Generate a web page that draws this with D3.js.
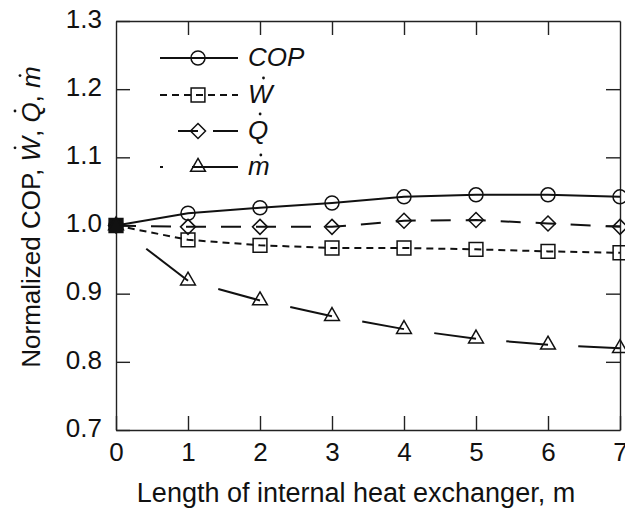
<!DOCTYPE html>
<html>
<head>
<meta charset="utf-8">
<script src="https://cdn.jsdelivr.net/npm/d3@7"></script>
<style>
    body { margin: 0; background: #fff; }
    svg { display: block; font-family: "Liberation Sans", Arial, Helvetica, sans-serif; }
</style>
</head>
<body>
<svg id="chart" width="625" height="510"></svg>
<script>
// data
const lengths = [0, 1, 2, 3, 4, 5, 6, 7];
const copValues = [1.000, 1.018, 1.026, 1.033, 1.042, 1.045, 1.045, 1.042];
const wValues = [1.000, 0.979, 0.971, 0.967, 0.967, 0.965, 0.962, 0.960];
const qValues = [1.000, 0.998, 0.998, 0.998, 1.007, 1.008, 1.003, 0.998];
const mValues = [1.000, 0.919, 0.890, 0.867, 0.848, 0.834, 0.825, 0.820];

const xTicks = [0, 1, 2, 3, 4, 5, 6, 7];
const yTicks = [0.7, 0.8, 0.9, 1.0, 1.1, 1.2, 1.3];
const legendLabels = ["COP", "W", "Q", "m"];

const plotLeft = 116, plotRight = 620, plotTop = 21, plotBottom = 430;
const ink = "#222";

const svg = d3.select("#chart");

const x = d3.scaleLinear().domain([0, 7]).range([plotLeft, plotRight]);
const y = d3.scaleLinear().domain([0.7, 1.3]).range([plotBottom, plotTop]);

// axes, ticks inside on all four sides
function styleAxis(g) {
    g.attr("font-family", null);
    g.selectAll(".domain").attr("stroke", ink).attr("stroke-width", 1.4);
    g.selectAll(".tick line").attr("stroke", ink).attr("stroke-width", 1.4);
    g.selectAll("text").attr("fill", "#111").attr("font-size", 26);
}

svg.append("g")
    .attr("transform", `translate(0,${plotBottom})`)
    .call(d3.axisBottom(x).tickValues(xTicks).tickSizeInner(-14).tickSizeOuter(0).tickPadding(13).tickFormat(d3.format("d")))
    .call(styleAxis);

svg.append("g")
    .attr("transform", `translate(0,${plotTop})`)
    .call(d3.axisTop(x).tickValues(xTicks.slice(1, -1)).tickSizeInner(-14).tickSizeOuter(0).tickFormat(""))
    .call(styleAxis);

svg.append("g")
    .attr("transform", `translate(${plotLeft},0)`)
    .call(d3.axisLeft(y).tickValues(yTicks).tickSizeInner(-14).tickSizeOuter(0).tickPadding(14).tickFormat(d3.format(".1f")))
    .call(styleAxis)
    .call(g => g.selectAll("text").attr("dy", "0.24em"));

svg.append("g")
    .attr("transform", `translate(${plotRight},0)`)
    .call(d3.axisRight(y).tickValues(yTicks.slice(1, -1)).tickSizeInner(-14).tickSizeOuter(0).tickFormat(""))
    .call(styleAxis);

// axis titles
svg.append("text")
    .attr("x", 356)
    .attr("y", 502)
    .attr("text-anchor", "middle")
    .attr("font-size", 27)
    .attr("fill", "#111")
    .text("Length of internal heat exchanger, m");

const yTitleG = svg.append("g").attr("transform", "translate(40,217) rotate(-90)");
const yTitle = yTitleG.append("text")
    .attr("text-anchor", "middle")
    .attr("font-size", 26)
    .attr("fill", "#111");
yTitle.append("tspan").text("Normalized COP, ");
yTitle.append("tspan").attr("font-style", "italic").text("W");
yTitle.append("tspan").text(", ");
yTitle.append("tspan").attr("font-style", "italic").text("Q");
yTitle.append("tspan").text(", ");
yTitle.append("tspan").attr("font-style", "italic").text("m");

// dots over W, Q and m in the y title
const titleStr = "Normalized COP, W, Q, m";
["W", "Q", "m"].forEach(function (ch) {
    const idx = titleStr.lastIndexOf(ch);
    const ext = yTitle.node().getExtentOfChar(idx);
    const capTop = ch === "m" ? -14 : -19;
    yTitleG.append("circle")
        .attr("cx", ext.x + ext.width / 2 + 1.5)
        .attr("cy", capTop - 6)
        .attr("r", 1.4)
        .attr("fill", "#111");
});

// markers
const diamondPath = "M0,-7.5L7.5,0L0,7.5L-7.5,0Z";
const markers = [
    d3.symbol(d3.symbolCircle, 154)(),
    d3.symbol(d3.symbolSquare, 190)(),
    diamondPath,
    d3.symbol(d3.symbolTriangle, 95)()
];

const series = [
    { name: "COP", values: copValues, dash: null },
    { name: "W", values: wValues, dash: "7,5" },
    { name: "Q", values: qValues, dash: "20,15" },
    { name: "m", values: mValues, dash: null, gapFirst: 0.42 }
];

const line = d3.line()
    .x(d => x(d[0]))
    .y(d => y(d[1]));

const plotG = svg.append("g");

series.forEach(function (s, i) {
    const pts = lengths.map((l, j) => [l, s.values[j]]);
    if (s.gapFirst) {
        // each segment starts with a gap, then a dash up to the next point
        for (let j = 0; j < pts.length - 1; j++) {
            const a = pts[j], b = pts[j + 1];
            const t = s.gapFirst;
            plotG.append("line")
                .attr("x1", x(a[0]) + (x(b[0]) - x(a[0])) * t)
                .attr("y1", y(a[1]) + (y(b[1]) - y(a[1])) * t)
                .attr("x2", x(b[0]))
                .attr("y2", y(b[1]))
                .attr("stroke", "#111")
                .attr("stroke-width", 2);
        }
    } else {
        plotG.append("path")
            .datum(pts)
            .attr("d", line)
            .attr("fill", "none")
            .attr("stroke", "#111")
            .attr("stroke-width", 2)
            .attr("stroke-dasharray", s.dash);
    }

    plotG.selectAll(null)
        .data(pts)
        .join("path")
        .attr("d", markers[i])
        .attr("transform", d => `translate(${x(d[0])},${y(d[1])})`)
        .attr("fill", d => d[0] === 0 ? "#111" : "none")
        .attr("stroke", "#111")
        .attr("stroke-width", 1.5);
});

// legend
const legendRows = [58, 95, 131, 167];
const legendDash = [null, "7,5", "0,18,20,15,22", "3,29,46"];
const legendG = svg.append("g");

legendLabels.forEach(function (label, i) {
    const ly = legendRows[i];
    legendG.append("line")
        .attr("x1", 160).attr("x2", 238)
        .attr("y1", ly).attr("y2", ly)
        .attr("stroke", "#111")
        .attr("stroke-width", 2)
        .attr("stroke-dasharray", legendDash[i]);
    legendG.append("path")
        .attr("d", markers[i])
        .attr("transform", `translate(198,${ly})`)
        .attr("fill", "none")
        .attr("stroke", "#111")
        .attr("stroke-width", 1.5);
    const t = legendG.append("text")
        .attr("x", 248)
        .attr("y", ly + 8)
        .attr("font-size", 26)
        .attr("font-style", "italic")
        .attr("fill", "#111")
        .text(label);
    if (i > 0) {
        const bb = t.node().getBBox();
        const capTop = label === "m" ? 14 : 19;
        legendG.append("circle")
            .attr("cx", bb.x + bb.width / 2 + 2)
            .attr("cy", ly + 8 - capTop - 6)
            .attr("r", 1.4)
            .attr("fill", "#111");
    }
});
</script>
</body>
</html>
